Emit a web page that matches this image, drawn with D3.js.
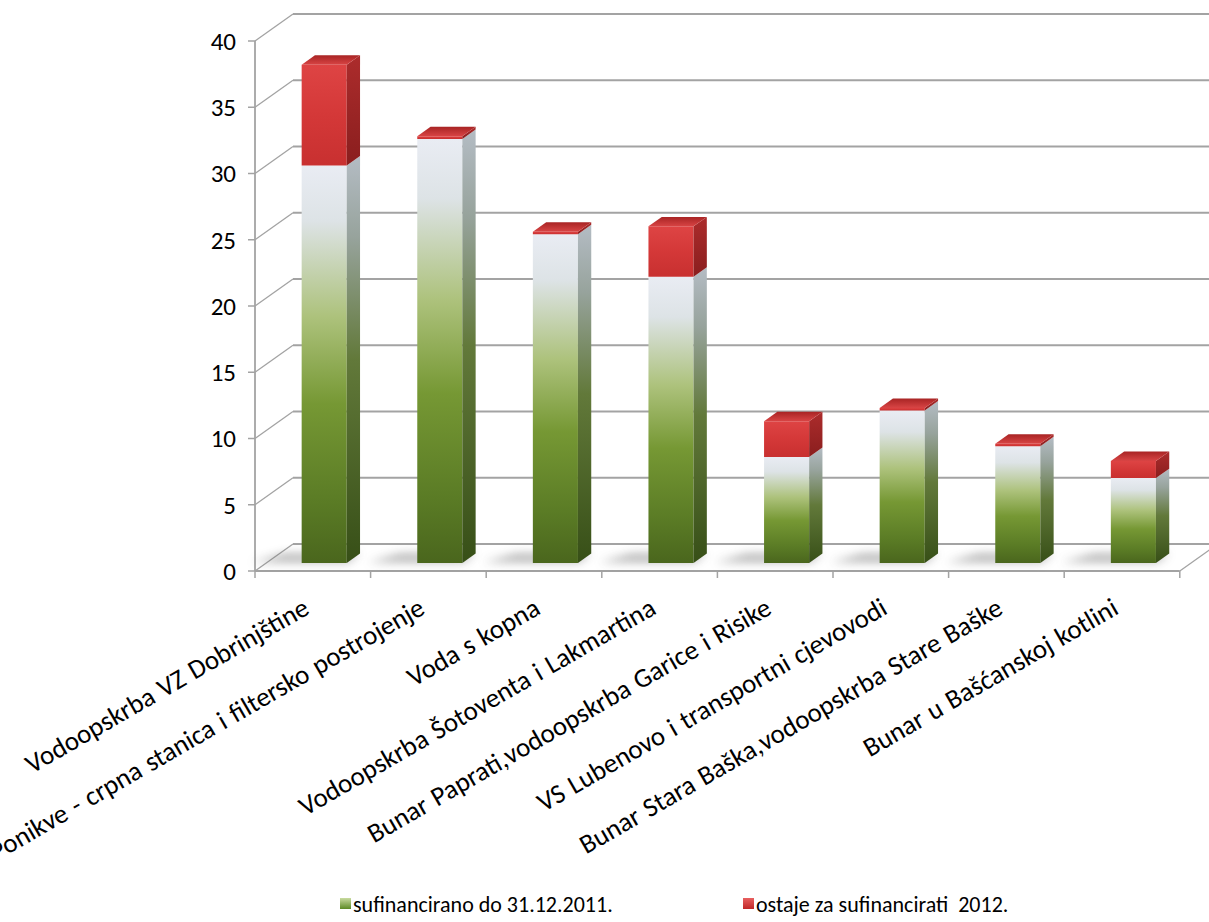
<!DOCTYPE html>
<html>
<head>
<meta charset="utf-8">
<script src="https://cdn.jsdelivr.net/npm/d3@7"></script>
<style>
  html, body { margin: 0; padding: 0; background: #fff; }
  svg { display: block; }
  text { font-family: Carlito, Calibri, Lato, "Open Sans", sans-serif; fill: #000; }
</style>
</head>
<body>
<svg id="chart" width="1209" height="922"></svg>
<script>
const categories = [
  "Vodoopskrba VZ Dobrinjštine",
  "Ponikve - crpna stanica i filtersko postrojenje",
  "Voda s kopna",
  "Vodoopskrba Šotoventa i Lakmartina",
  "Bunar Paprati,vodoopskrba Garice i Risike",
  "VS Lubenovo i transportni cjevovodi",
  "Bunar Stara Baška,vodoopskrba Stare Baške",
  "Bunar u Bašćanskoj kotlini"
];
const funded    = [30.0, 32.0, 24.8, 21.6, 8.0, 11.5, 8.8, 6.4];
const remaining = [7.6, 0.2, 0.2, 3.8, 2.7, 0.2, 0.2, 1.3];
const seriesNames = ["sufinancirano do 31.12.2011.", "ostaje za sufinancirati  2012."];
const yTicks = [0, 5, 10, 15, 20, 25, 30, 35, 40];

const svg = d3.select("#chart");
const defs = svg.append("defs");

function grad(id, stops, horizontal) {
  const g = defs.append("linearGradient").attr("id", id)
    .attr("x1", 0).attr("y1", 0).attr("x2", horizontal ? 1 : 0).attr("y2", horizontal ? 0 : 1);
  stops.forEach(s => g.append("stop").attr("offset", s[0]).attr("stop-color", s[1]));
}
grad("gFront", [[0, "#e9ecf3"], [0.14, "#dde3e6"], [0.38, "#adc27c"], [0.6, "#769834"], [0.85, "#5a7b25"], [1, "#4a661d"]]);
grad("gSide",  [[0, "#b4bcc4"], [0.2, "#97a39c"], [0.5, "#62793a"], [1, "#374f17"]]);
grad("rFront", [[0, "#de4444"], [0.5, "#d43838"], [1, "#c83030"]]);
grad("rSide",  [[0, "#ac2c2c"], [1, "#8a1e1e"]]);
grad("rTop",   [[0, "#a82424"], [1, "#d84444"]]);
grad("legG",   [[0, "#c9dba0"], [1, "#5d8a25"]]);
grad("legR",   [[0, "#e86060"], [1, "#c02828"]]);
defs.append("filter").attr("id", "blur").attr("x", "-50%").attr("y", "-100%").attr("width", "200%").attr("height", "300%")
  .append("feGaussianBlur").attr("stdDeviation", 5);

const n = categories.length;
const catW = 115.6;
const x = d3.scaleBand().domain(categories).range([255, 255 + n * catW]).paddingInner(0).paddingOuter(0);
const y = d3.scaleLinear().domain([0, 40]).range([571, 41]);
const DX = 38, DY = -27;
const P = (xx, v, t) => [xx + t * DX, y(v) + t * DY];
const pts = arr => arr.map(p => p.join(",")).join(" ");

const grid = "#a3a3a3";
const g = svg.append("g");

const xL = x.range()[0], xR = x.range()[1];
yTicks.forEach(v => {
  const a = P(xL, v, 1), b = P(xR, v, 1);
  g.append("line").attr("x1", a[0]).attr("y1", a[1]).attr("x2", b[0]).attr("y2", b[1])
    .attr("stroke", grid).attr("stroke-width", 1.8);
  const c = P(xL, v, 0);
  g.append("line").attr("x1", c[0]).attr("y1", c[1]).attr("x2", a[0]).attr("y2", a[1])
    .attr("stroke", grid).attr("stroke-width", 1.3);
});
{
  const a = P(xR, 0, 0), b = P(xR, 0, 1);
  g.append("line").attr("x1", a[0]).attr("y1", a[1]).attr("x2", b[0]).attr("y2", b[1])
    .attr("stroke", grid).attr("stroke-width", 1.3);
}
g.append("line").attr("x1", xL).attr("y1", y(0)).attr("x2", xR).attr("y2", y(0)).attr("stroke", grid).attr("stroke-width", 1.8);
g.append("line").attr("x1", xL).attr("y1", y(0)).attr("x2", xL).attr("y2", y(40)).attr("stroke", grid).attr("stroke-width", 1.8);

yTicks.forEach(v => {
  g.append("line").attr("x1", xL - 7).attr("x2", xL).attr("y1", y(v)).attr("y2", y(v)).attr("stroke", grid).attr("stroke-width", 1.5);
  g.append("text").attr("x", xL - 19).attr("y", y(v)).attr("dy", "0.35em").attr("text-anchor", "end")
    .attr("font-size", 25).text(v);
});
d3.range(n + 1).forEach(i => {
  const xx = xL + i * catW;
  g.append("line").attr("x1", xx).attr("x2", xx).attr("y1", y(0)).attr("y2", y(0) + 7).attr("stroke", grid).attr("stroke-width", 1.5);
});

const t1 = 0.3, t2 = 0.65;
const bw = x.bandwidth() * 0.39;
const data = categories.map((c, i) => ({ cat: c, funded: funded[i], remaining: remaining[i] }));
const stack = d3.stack().keys(["funded", "remaining"])(data);

data.forEach(d => {
  const l = x(d.cat) + (x.bandwidth() - bw) / 2;
  const a = P(l - 50, 0, t1 + 0.02), b = P(l + bw, 0, t1 + 0.02), c = P(l + bw, 0, t2), e = P(l - 30, 0, t2);
  g.append("polygon").attr("points", pts([a, b, c, e])).attr("fill", "#6a6a6a").attr("opacity", 0.5).attr("filter", "url(#blur)");
});

data.forEach((d, i) => {
  const l = x(d.cat) + (x.bandwidth() - bw) / 2, r = l + bw;
  const bg = g.append("g");
  stack.forEach((s, si) => {
    const v0 = s[i][0], v1 = s[i][1];
    const front = si === 0 ? "url(#gFront)" : "url(#rFront)";
    const side = si === 0 ? "url(#gSide)" : "url(#rSide)";
    bg.append("polygon").attr("points", pts([P(l, v0, t1), P(r, v0, t1), P(r, v1, t1), P(l, v1, t1)])).attr("fill", front);
    bg.append("polygon").attr("points", pts([P(r, v0, t1), P(r, v0, t2), P(r, v1, t2), P(r, v1, t1)])).attr("fill", side);
  });
  const top = stack[1][i][1];
  bg.append("polygon").attr("points", pts([P(l, top, t1), P(r, top, t1), P(r, top, t2), P(l, top, t2)])).attr("fill", "url(#rTop)");
});

categories.forEach(c => {
  const cx = x(c) + x.bandwidth() / 2;
  g.append("text").attr("transform", `translate(${cx - 2},${y(0) + 42}) rotate(-30)`)
    .attr("text-anchor", "end").attr("font-size", 27).attr("word-spacing", 1.5).text(c);
});

const legend = svg.append("g");
const legItems = [{ name: seriesNames[0], fill: "url(#legG)", x: 340 }, { name: seriesNames[1], fill: "url(#legR)", x: 743 }];
legItems.forEach(it => {
  legend.append("rect").attr("x", it.x).attr("y", 898).attr("width", 11).attr("height", 11).attr("fill", it.fill);
  legend.append("text").attr("x", it.x + 13).attr("y", 904).attr("dy", "0.35em").attr("font-size", 22).style("white-space", "pre").text(it.name);
});
</script>
</body>
</html>
